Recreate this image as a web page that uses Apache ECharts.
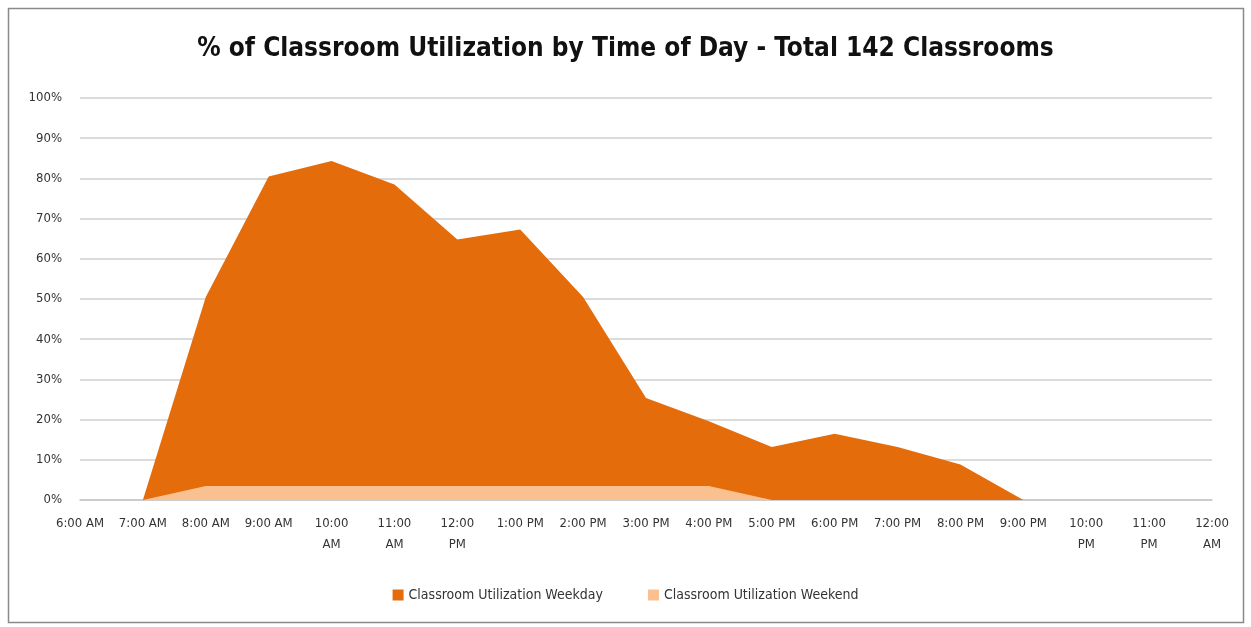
<!DOCTYPE html>
<html><head><meta charset="utf-8">
<script src="https://cdn.jsdelivr.net/npm/echarts@6/dist/echarts.min.js"></script>
<style>html,body{margin:0;padding:0;background:#fff}#c{width:1251px;height:627px}</style>
</head><body><div id="c"></div>
<script>
const categories = ['6:00 AM','7:00 AM','8:00 AM','9:00 AM','10:00 AM','11:00 AM','12:00 PM','1:00 PM','2:00 PM','3:00 PM','4:00 PM','5:00 PM','6:00 PM','7:00 PM','8:00 PM','9:00 PM','10:00 PM','11:00 PM','12:00 AM'];
const weekday = [0,0,50.5,80.5,84.3,78.5,64.8,67.3,50.5,25.4,19.6,13.2,16.5,13.2,8.8,0,0,0,0];
const weekend = [0,0,3.5,3.5,3.5,3.5,3.5,3.5,3.5,3.5,3.5,0,0,0,0,0,0,0,0];
const yTicks = [0,10,20,30,40,50,60,70,80,90,100];
const seriesNames = ['Classroom Utilization Weekday','Classroom Utilization Weekend'];
const FONT = '"Liberation Sans Narrow","DejaVu Sans Condensed",sans-serif';
const chart = echarts.init(document.getElementById('c'));
chart.setOption({
  animation:false,
  backgroundColor:'#fff',
  title:{text:'% of Classroom Utilization by Time of Day - Total 142 Classrooms',left:'center',top:31,
    textStyle:{fontFamily:FONT,fontWeight:'bold',fontSize:26,color:'#111'}},
  graphic:[{type:'rect',shape:{x:8.5,y:8.5,width:1235,height:614},style:{fill:'none',stroke:'#8a8a8a',lineWidth:1.5},silent:true}],
  legend:{bottom:20,left:'center',itemWidth:11,itemHeight:11,itemGap:45,icon:'rect',
    textStyle:{fontFamily:FONT,fontSize:14,color:'#333'},data:seriesNames},
  grid:{left:80,right:39,top:98,bottom:127},
  xAxis:{type:'category',data:categories,boundaryGap:false,
    axisLine:{lineStyle:{color:'#c8c8c8',width:1.5}},axisTick:{show:false},
    axisLabel:{fontFamily:FONT,fontSize:13,color:'#333',margin:13,interval:0,lineHeight:21,
      formatter:v=>/^1\d:/.test(v)?v.replace(' ','\n'):v}},
  yAxis:{type:'value',min:0,max:100,interval:10,
    axisLine:{show:false},axisTick:{show:false},
    splitLine:{lineStyle:{color:'#cfcfcf',width:1.5}},
    axisLabel:{fontFamily:FONT,fontSize:13,color:'#333',margin:18,formatter:v=>yTicks.includes(v)?v+'%':''}},
  series:[
    {name:seriesNames[0],type:'line',data:weekday,symbol:'none',lineStyle:{width:0},
     itemStyle:{color:'#E46C0A'},areaStyle:{color:'#E46C0A',opacity:1}},
    {name:seriesNames[1],type:'line',data:weekend,symbol:'none',lineStyle:{width:0},
     itemStyle:{color:'#FAC090'},areaStyle:{color:'#FAC090',opacity:1}}
  ]
});
</script></body></html>
